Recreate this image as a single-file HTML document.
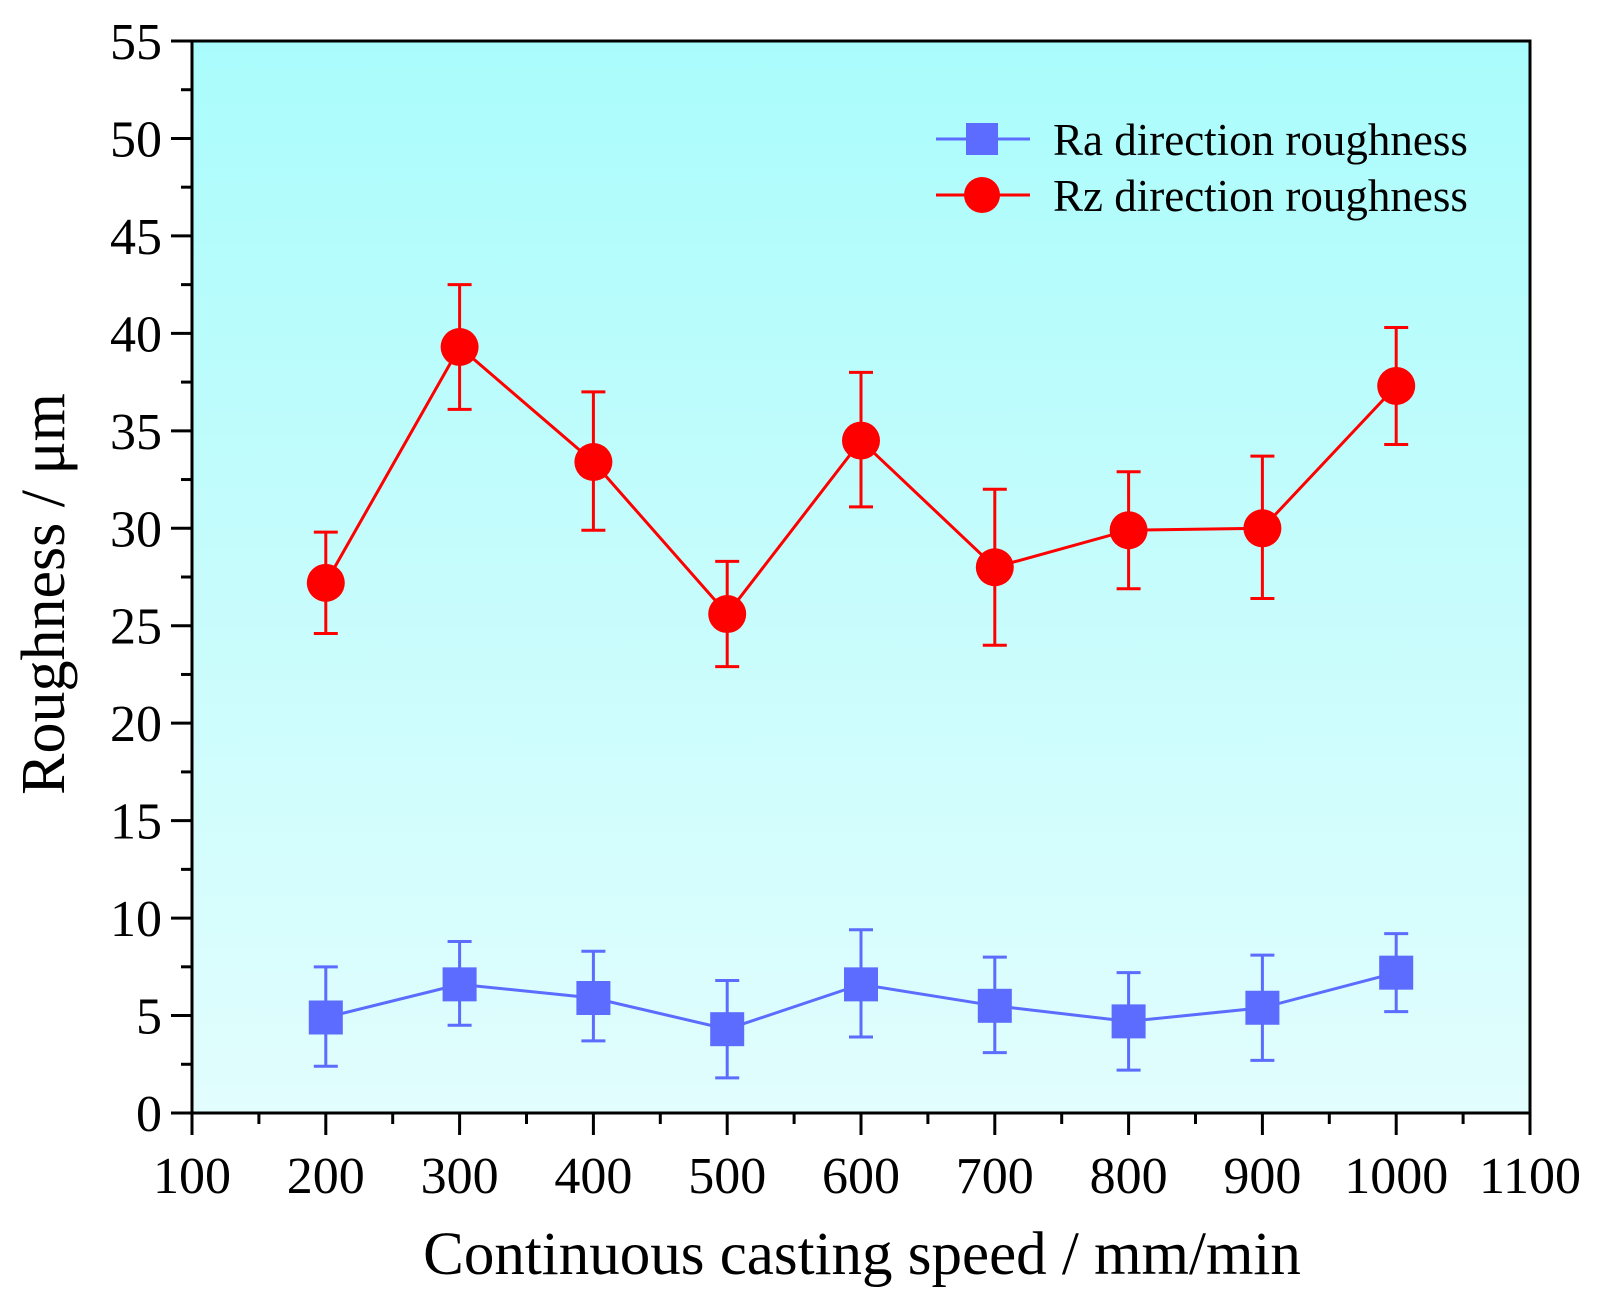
<!DOCTYPE html>
<html><head><meta charset="utf-8"><style>
html,body{margin:0;padding:0;background:#fff;}
svg{display:block;font-family:"Liberation Serif",serif;}
</style></head><body>
<svg id="chart" width="1598" height="1295" viewBox="0 0 1598 1295">
<defs><linearGradient id="bg" x1="0" y1="0" x2="0" y2="1"><stop offset="0" stop-color="#aafcfc"/><stop offset="1" stop-color="#e2fdfd"/></linearGradient></defs>
<rect x="192" y="41" width="1338" height="1072" fill="url(#bg)"/>
<g id="axes"></g>
<g id="series"></g>
<text x="862" y="1274" font-size="61" text-anchor="middle">Continuous casting speed / mm/min</text>
<text transform="translate(64,594) rotate(-90)" font-size="62" text-anchor="middle">Roughness / μm</text>
<g>
<line x1="936" y1="139" x2="1030" y2="139" stroke="#5b6cff" stroke-width="3"/>
<rect x="966" y="123" width="32" height="32" fill="#5b6cff"/>
<text x="1053" y="155" font-size="45">Ra direction roughness</text>
<line x1="936" y1="195" x2="1030" y2="195" stroke="#ff0000" stroke-width="3"/>
<circle cx="982" cy="195" r="18" fill="#ff0000"/>
<text x="1053" y="211" font-size="45">Rz direction roughness</text>
</g>
</svg>
<script>
const speeds=[200,300,400,500,600,700,800,900,1000];
const rzValues=[27.2,39.3,33.4,25.6,34.5,28.0,29.9,30.0,37.3];
const rzLow=[24.6,36.1,29.9,22.9,31.1,24.0,26.9,26.4,34.3];
const rzHigh=[29.8,42.5,37.0,28.3,38.0,32.0,32.9,33.7,40.3];
const raValues=[4.9,6.6,5.9,4.3,6.6,5.5,4.7,5.4,7.2];
const raLow=[2.4,4.5,3.7,1.8,3.9,3.1,2.2,2.7,5.2];
const raHigh=[7.5,8.8,8.3,6.8,9.4,8.0,7.2,8.1,9.2];
const xTicks=[100,200,300,400,500,600,700,800,900,1000,1100];
const yTicks=[0,5,10,15,20,25,30,35,40,45,50,55];

const L=192,R=1530,T=41,B=1113;
const xs=v=>L+(v-100)/1000*(R-L);
const ys=v=>B-(v/55)*(B-T);
const NS="http://www.w3.org/2000/svg";
function mk(tag,attrs,parent){const e=document.createElementNS(NS,tag);for(const k in attrs)e.setAttribute(k,attrs[k]);parent.appendChild(e);return e;}
const ax=document.getElementById('axes');
let f=mk('rect',{x:L,y:T,width:R-L,height:B-T,fill:'none',stroke:'#000','stroke-width':3},ax);


xTicks.forEach((t,i)=>{
  let l=mk('line',{x1:xs(t),x2:xs(t),y1:B,y2:B+22,stroke:'#000','stroke-width':3},ax);
  
  
  if(i<xTicks.length-1){let m=mk('line',{x1:xs(t+50),x2:xs(t+50),y1:B,y2:B+11,stroke:'#000','stroke-width':3},ax);
  
  }
  let tx=mk('text',{x:xs(t),y:1193,'font-size':52,'text-anchor':'middle'},ax);tx.textContent=t;
  
  
});
yTicks.forEach((t,i)=>{
  let l=mk('line',{x1:L-21,x2:L,y1:ys(t),y2:ys(t),stroke:'#000','stroke-width':3},ax);
  
  
  if(i<yTicks.length-1){let m=mk('line',{x1:L-11,x2:L,y1:ys(t+2.5),y2:ys(t+2.5),stroke:'#000','stroke-width':3},ax);
  
  }
  let tx=mk('text',{x:162,y:ys(t)+18,'font-size':52,'text-anchor':'end'},ax);tx.textContent=t;
  
  
});
const sg=document.getElementById('series');
function series(vals,lo,hi,color,shape,name){
  const g=mk('g',{},sg);
  
  
  const pl=mk('polyline',{points:speeds.map((s,i)=>xs(s)+','+ys(vals[i])).join(' '),fill:'none',stroke:color,'stroke-width':3},g);
  
  
  speeds.forEach((s,i)=>{
    const x=xs(s);
    const e=mk('path',{d:`M${x},${ys(lo[i])}V${ys(hi[i])}M${x-12},${ys(lo[i])}H${x+12}M${x-12},${ys(hi[i])}H${x+12}`,stroke:color,'stroke-width':3,fill:'none'},g);
    
    
    let m;
    if(shape==='sq')m=mk('rect',{x:x-17,y:ys(vals[i])-17,width:34,height:34,fill:color},g);
    else m=mk('circle',{cx:x,cy:ys(vals[i]),r:19,fill:color},g);
    
    
  });
}
series(raValues,raLow,raHigh,'#5b6cff','sq','ra');
series(rzValues,rzLow,rzHigh,'#ff0000','ci','rz');
</script>
</body></html>
